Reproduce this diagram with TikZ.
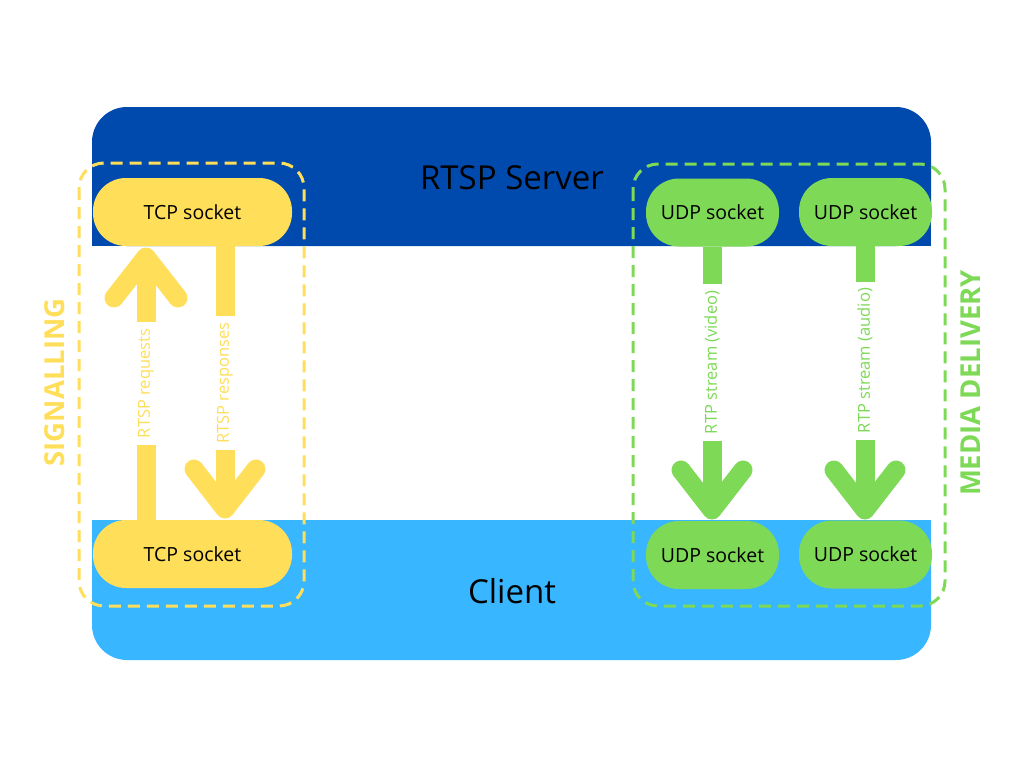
\documentclass[tikz,border=0pt]{standalone}
\usepackage{fontspec}
\setmainfont{Open Sans}
\definecolor{srv}{HTML}{004AAD}
\definecolor{cli}{HTML}{38B6FF}
\definecolor{yel}{HTML}{FFDE59}
\definecolor{grn}{HTML}{7ED957}
\tikzset{
  sock/.style={rectangle, rounded corners=33pt, minimum height=68pt, inner sep=0pt,
    text=black, font=\fontsize{19.5}{22}\selectfont},
  tcpsock/.style={sock, fill=yel, minimum width=199pt},
  udpsock/.style={sock, fill=grn, minimum width=133pt},
  zone/.style={line width=3pt, dash pattern=on 12pt off 7pt, rounded corners=25pt},
  shaft/.style={line width=19pt, line cap=butt},
  chevron/.style={line width=19pt, line cap=round, line join=round},
  lbl/.style={fill=white, rotate=90, inner xsep=6.5pt, inner ysep=2pt, minimum height=24pt,
    font=\fontsize{16.5}{18}\selectfont},
  bigtitle/.style={font=\fontsize{33}{38}\selectfont, text=black},
  zonetitle/.style={rotate=90, font=\fontsize{27.5}{32}\selectfont\bfseries}
}
\begin{document}
\begin{tikzpicture}[x=1pt,y=-1pt]
\useasboundingbox (0,0) rectangle (1024,768);
% background bands
\fill[srv, rounded corners=35pt] (92,107) rectangle (931,246);
\fill[srv] (92,170) rectangle (931,246);
\fill[cli, rounded corners=35pt] (92,520) rectangle (931,660);
\fill[cli] (92,520) rectangle (931,600);
\node[bigtitle] (server) at (512,178) {RTSP Server};
\node[bigtitle] (client) at (512,591) {Client};
% sockets
\node[tcpsock] (tcpT) at (192.5,212) {TCP socket};
\node[tcpsock] (tcpB) at (192.5,554) {TCP socket};
\node[udpsock] (udpT1) at (712.5,212.5) {UDP socket};
\node[udpsock] (udpT2) at (865.5,212) {UDP socket};
\node[udpsock] (udpB1) at (712.5,555) {UDP socket};
\node[udpsock] (udpB2) at (865.5,554.5) {UDP socket};
% zones
\draw[zone, yel] (79,163) rectangle (304,606);
\draw[zone, grn] (633,164) rectangle (945,606);
\node[zonetitle, text=yel] (sig) at (55,382.5) {SIGNALLING};
\node[zonetitle, text=grn] (med) at (971,383) {MEDIA DELIVERY};
% tips
\coordinate (reqTip) at (146,257);
\coordinate (resTip) at (225,509);
\coordinate (vidTip) at (712,510);
\coordinate (audTip) at (865,510);
% RTSP requests (up)
\draw[shaft, yel] (tcpB.north -| reqTip) -- node[lbl, text=yel, pos=0.529] {RTSP requests} ([yshift=-5pt]reqTip);
\draw[chevron, yel] ([shift={(-32,41)}]reqTip) -- (reqTip) -- ([shift={(32,41)}]reqTip);
% RTSP responses (down)
\draw[shaft, yel] (tcpT.south -| resTip) -- node[lbl, text=yel, pos=0.539] {RTSP responses} ([yshift=9pt]resTip);
\draw[chevron, yel] ([shift={(-31,-40)}]resTip) -- (resTip) -- ([shift={(31,-40)}]resTip);
% RTP video
\draw[shaft, grn] (udpT1.south -| vidTip) -- node[lbl, text=grn, pos=0.455] {RTP stream (video)} ([yshift=9pt]vidTip);
\draw[chevron, grn] ([shift={(-31,-40)}]vidTip) -- (vidTip) -- ([shift={(31,-40)}]vidTip);
% RTP audio
\draw[shaft, grn] (udpT2.south -| audTip) -- node[lbl, text=grn, pos=0.449] {RTP stream (audio)} ([yshift=9pt]audTip);
\draw[chevron, grn] ([shift={(-31,-40)}]audTip) -- (audTip) -- ([shift={(31,-40)}]audTip);
\end{tikzpicture}
\end{document}
